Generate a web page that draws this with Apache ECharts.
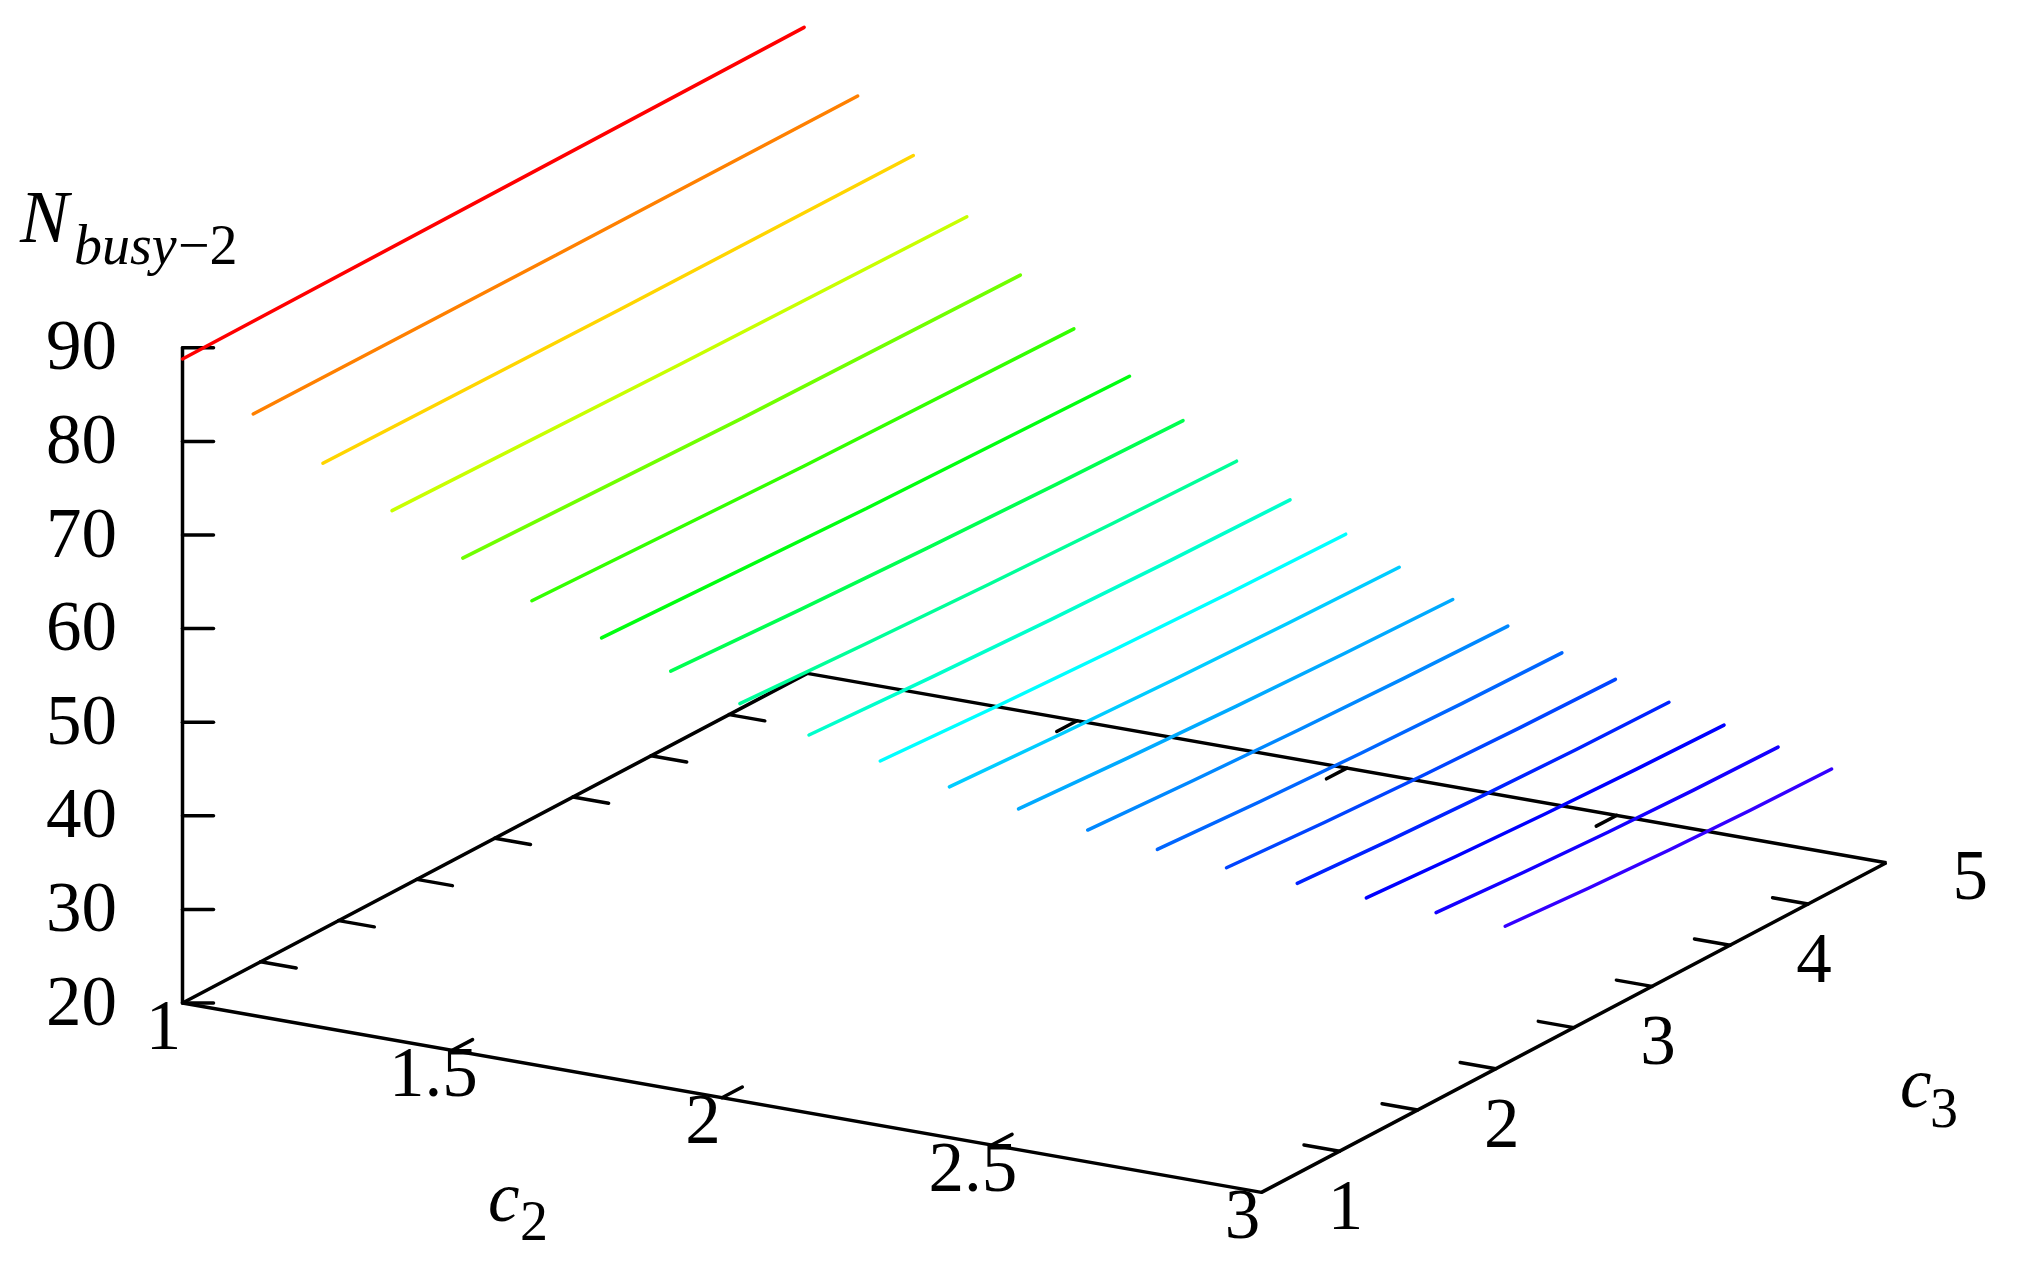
<!DOCTYPE html>
<html>
<head>
<meta charset="utf-8">
<title>N busy-2</title>
<style>
  html, body { margin: 0; padding: 0; background: #fff; }
  #chart { width: 2019px; height: 1262px; }
</style>
<script src="https://cdn.jsdelivr.net/npm/echarts@6/dist/echarts.min.js"></script>
</head>
<body>
<div id="chart"></div>
<script>
// one line per c2 value
var c2Values = [1, 1.105, 1.211, 1.316, 1.421, 1.526, 1.632, 1.737, 1.842, 1.947, 2.053, 2.158, 2.263, 2.368, 2.474, 2.579, 2.684, 2.789, 2.895, 3];
var c3Start = [1, 1.09, 1.17, 1.25, 1.34, 1.42, 1.50, 1.58, 1.66, 1.74, 1.83, 1.91, 1.99, 2.07, 2.15, 2.23, 2.32, 2.40, 2.48, 2.56];
var c3Mid = [3.0, 3.03, 3.065, 3.095, 3.13, 3.16, 3.195, 3.225, 3.255, 3.285, 3.325, 3.355, 3.385, 3.42, 3.45, 3.48, 3.515, 3.55, 3.58, 3.61];
var c3End = [4.98, 4.96, 4.95, 4.93, 4.91, 4.89, 4.88, 4.86, 4.84, 4.82, 4.81, 4.79, 4.77, 4.76, 4.74, 4.72, 4.70, 4.69, 4.67, 4.65];
var nStart = [88.8, 83.2, 78.3, 73.6, 68.8, 64.6, 61.0, 57.8, 54.7, 51.7, 49.2, 46.8, 44.8, 42.9, 41.2, 39.6, 38.2, 37.0, 35.8, 34.7];
var nMid = [89.0, 83.1, 78.0, 73.0, 68.0, 63.65, 59.9, 56.5, 53.4, 50.4, 47.9, 45.6, 43.5, 41.7, 40.0, 38.4, 37.1, 35.9, 34.7, 33.6];
var nEnd = [89.2, 83.1, 77.9, 72.6, 67.6, 63.1, 59.2, 55.7, 52.6, 49.7, 47.2, 44.9, 42.7, 41.0, 39.4, 37.8, 36.6, 35.3, 34.2, 33.1];

var c2Ticks = [1, 1.5, 2, 2.5, 3];
var c2MinorTicks = [1.5, 2, 2.5];
var c3Ticks = [1, 2, 3, 4, 5];
var c3MinorTicks = [1.5, 2, 2.5, 3, 3.5, 4, 4.5];
var nTicks = [20, 30, 40, 50, 60, 70, 80, 90];

var lineColors = ['#ff0000', '#ff8000', '#ffd500', '#c8ff00', '#70ff00', '#33ff00', '#00ff10', '#00ff50',
  '#00ff99', '#00ffcc', '#00ffff', '#00ccff', '#00aaff', '#0088ff', '#0066ff', '#0044ff',
  '#0022ff', '#0000ff', '#1400ff', '#3300ff'];

// the box is a fixed oblique view, c2/c3/N -> page position
function project(c2, c3, n) {
  return [
    182.5 + 539.5 * (c2 - 1) + 156.2 * (c3 - 1),
    1003 + 94.7 * (c2 - 1) - 82.4 * (c3 - 1) - 9.36 * (n - 20)
  ];
}

function polyline(points, color, smooth) {
  return {
    type: 'line',
    data: points,
    symbol: 'none',
    smooth: !!smooth,
    silent: true,
    animation: false,
    lineStyle: { color: color, width: 3.5, cap: 'round' }
  };
}

function textSeries(items, offset, align) {
  return {
    type: 'scatter',
    symbolSize: 0,
    silent: true,
    animation: false,
    // scatter defaults to 0.8 opacity, which also greys the labels
    itemStyle: { opacity: 1 },
    data: items.map(function (it) {
      return { value: it.pos, label: { formatter: it.text } };
    }),
    label: {
      show: true,
      position: 'inside',
      offset: offset,
      align: align,
      verticalAlign: 'middle',
      fontFamily: 'Liberation Serif',
      fontSize: 71,
      color: '#000'
    }
  };
}

var series = [];
var black = '#000';

// box edges
series.push(polyline([project(1, 1, 20), project(3, 1, 20), project(3, 5, 20), project(1, 5, 20), project(1, 1, 20)], black));
series.push(polyline([project(1, 1, 20), project(1, 1, 90)], black));

// ticks
nTicks.forEach(function (n) {
  var p = project(1, 1, n);
  series.push(polyline([p, [p[0] + 31, p[1]]], black));
});
c2MinorTicks.forEach(function (c2) {
  series.push(polyline([project(c2, 1, 20), project(c2, 1.13, 20)], black));
  series.push(polyline([project(c2, 5, 20), project(c2, 4.87, 20)], black));
});
c3MinorTicks.forEach(function (c3) {
  series.push(polyline([project(1, c3, 20), project(1.066, c3, 20)], black));
  series.push(polyline([project(3, c3, 20), project(2.934, c3, 20)], black));
});

// the data lines, on top of the box
c2Values.forEach(function (c2, i) {
  series.push(polyline([
    project(c2, c3Start[i], nStart[i]),
    project(c2, c3Mid[i], nMid[i]),
    project(c2, c3End[i], nEnd[i])
  ], lineColors[i], true));
});

// tick labels
series.push(textSeries(nTicks.map(function (n) {
  return { pos: project(1, 1, n), text: String(n) };
}), [-65.5, 3], 'right'));
series.push(textSeries(c2Ticks.map(function (c2) {
  return { pos: project(c2, 1, 20), text: String(c2) };
}), [-19, 27], 'center'));
series.push(textSeries(c3Ticks.map(function (c3) {
  return { pos: project(3, c3, 20), text: String(c3) };
}), [84, 18], 'center'));

function axisName(x, y, text, size, italic) {
  return {
    type: 'text',
    silent: true,
    style: {
      x: x,
      y: y,
      text: text,
      fill: '#000',
      font: (italic ? 'italic ' : '') + size + 'px "Liberation Serif"',
      verticalAlign: 'bottom'
    }
  };
}

var chart = echarts.init(document.getElementById('chart'), null, { renderer: 'canvas' });
chart.setOption({
  backgroundColor: '#fff',
  grid: { left: 0, right: 0, top: 0, bottom: 0 },
  xAxis: { type: 'value', min: 0, max: 2019, show: false },
  yAxis: { type: 'value', min: 0, max: 1262, inverse: true, show: false },
  series: series,
  graphic: [
    axisName(20, 259, 'N', 73, true),
    axisName(74, 277, 'busy', 56, true),
    axisName(178, 277, '\u22122', 56, false),
    axisName(488, 1238, 'c', 71, true),
    axisName(520, 1253, '2', 56, false),
    axisName(1900, 1124, 'c', 71, true),
    axisName(1930, 1140, '3', 56, false)
  ]
});
</script>
</body>
</html>
